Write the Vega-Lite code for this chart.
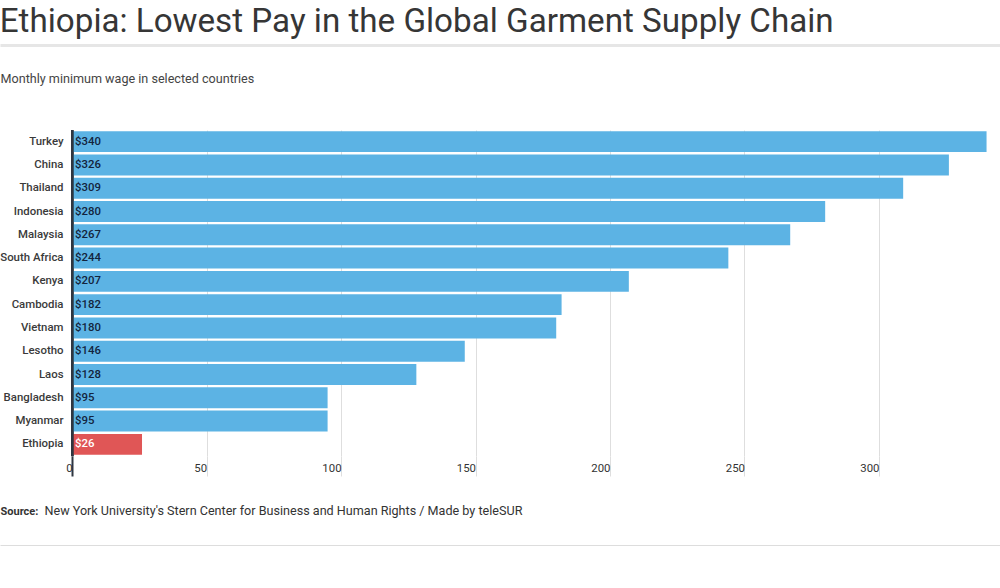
{
  "$schema": "https://vega.github.io/schema/vega-lite/v6.json",
  "autosize": {"type": "none"},
  "width": 1000,
  "height": 326,
  "padding": {"left": 0, "top": 130, "right": 0, "bottom": 132},
  "background": "#ffffff",
  "config": {"font": "Roboto", "view": {"stroke": null}},
  "title": {
    "text": "Ethiopia: Lowest Pay in the Global Garment Supply Chain",
    "anchor": "start",
    "frame": "bounds",
    "font": "Roboto",
    "fontSize": 33.2,
    "fontWeight": 400,
    "color": "#363636",
    "offset": 6
  },
  "data": {
    "values": [
      {"country": "Turkey", "wage": 340},
      {"country": "China", "wage": 326},
      {"country": "Thailand", "wage": 309},
      {"country": "Indonesia", "wage": 280},
      {"country": "Malaysia", "wage": 267},
      {"country": "South Africa", "wage": 244},
      {"country": "Kenya", "wage": 207},
      {"country": "Cambodia", "wage": 182},
      {"country": "Vietnam", "wage": 180},
      {"country": "Lesotho", "wage": 146},
      {"country": "Laos", "wage": 128},
      {"country": "Bangladesh", "wage": 95},
      {"country": "Myanmar", "wage": 95},
      {"country": "Ethiopia", "wage": 26}
    ]
  },
  "resolve": {"axis": {"x": "independent"}},
  "layer": [
    {
      "mark": {"type": "bar"},
      "encoding": {
        "y": {
          "field": "country",
          "type": "nominal",
          "sort": null,
          "scale": {"paddingInner": 0.1, "paddingOuter": 0.05},
          "axis": {
            "title": null,
            "domain": false,
            "ticks": false,
            "labelPadding": -63,
            "labelAlign": "right",
            "labelFontSize": 11.4,
            "labelFontWeight": 500,
            "labelColor": "#3a3a3a",
            "labelFont": "Roboto"
          }
        },
        "x": {
          "field": "wage",
          "type": "quantitative",
          "scale": {"domain": [-26.8, 345], "nice": false, "zero": false},
          "axis": {
            "orient": "bottom",
            "values": [0, 50, 100, 150, 200, 250, 300, 350],
            "domain": false,
            "grid": true,
            "gridColor": {"condition": {"test": "datum.value === 0", "value": "#2f3640"}, "value": "#dedede"},
            "gridWidth": {"condition": {"test": "datum.value === 0", "value": 2}, "value": 1},
            "ticks": true,
            "tickSize": 20,
            "tickColor": {"condition": {"test": "datum.value === 0", "value": "#2f3640"}, "value": "#dedede"},
            "tickWidth": {"condition": {"test": "datum.value === 0", "value": 2}, "value": 1},
            "labelAlign": "right",
            "labelBaseline": "top",
            "labelDx": -6,
            "labelPadding": -14,
            "labelFlush": false,
            "labelOverlap": false,
            "labelBound": false,
            "labelFontSize": 11.4,
            "labelColor": "#333333",
            "labelFont": "Roboto",
            "title": "Source:",
            "titleX": 0,
            "titleY": 58,
            "titleAlign": "left",
            "titleBaseline": "alphabetic",
            "titleFont": "Roboto",
            "titleFontSize": 11,
            "titleFontWeight": "bold",
            "titleColor": "#333333"
          }
        },
        "x2": {"datum": 0},
        "color": {
          "condition": {"test": "datum.country === 'Ethiopia'", "value": "#e05656"},
          "value": "#5cb3e4"
        }
      }
    },
    {
      "mark": {"type": "text", "align": "left", "baseline": "middle", "dx": 3, "fontSize": 11.4, "fontWeight": 500, "font": "Roboto"},
      "encoding": {
        "y": {"field": "country", "type": "nominal", "sort": null},
        "x": {
          "datum": 0,
          "type": "quantitative",
          "axis": {
            "orient": "top",
            "offset": 85,
            "domain": true,
            "domainColor": "#e6e6e6",
            "domainWidth": 3,
            "ticks": false,
            "labels": false,
            "grid": false,
            "title": "Monthly minimum wage in selected countries",
            "titleX": 0,
            "titleY": 37,
            "titleAlign": "left",
            "titleBaseline": "alphabetic",
            "titleFont": "Roboto",
            "titleFontSize": 12.6,
            "titleFontWeight": "normal",
            "titleColor": "#444444"
          }
        },
        "text": {"field": "wage", "type": "quantitative", "format": "$d"},
        "color": {
          "condition": {"test": "datum.country === 'Ethiopia'", "value": "#ffffff"},
          "value": "#13243d"
        }
      }
    },
    {
      "mark": {"type": "rule", "color": "#2f3640", "strokeWidth": 2},
      "encoding": {
        "x": {
          "datum": 0,
          "type": "quantitative",
          "axis": {
            "orient": "bottom",
            "offset": 89,
            "domain": true,
            "domainColor": "#dddddd",
            "domainWidth": 1,
            "ticks": false,
            "labels": false,
            "grid": false,
            "title": "New York University's Stern Center for Business and Human Rights / Made by teleSUR",
            "titleX": 44,
            "titleY": -31,
            "titleAlign": "left",
            "titleBaseline": "alphabetic",
            "titleFont": "Roboto",
            "titleFontSize": 12.6,
            "titleFontWeight": "normal",
            "titleColor": "#333333"
          }
        }
      }
    }
  ]
}
